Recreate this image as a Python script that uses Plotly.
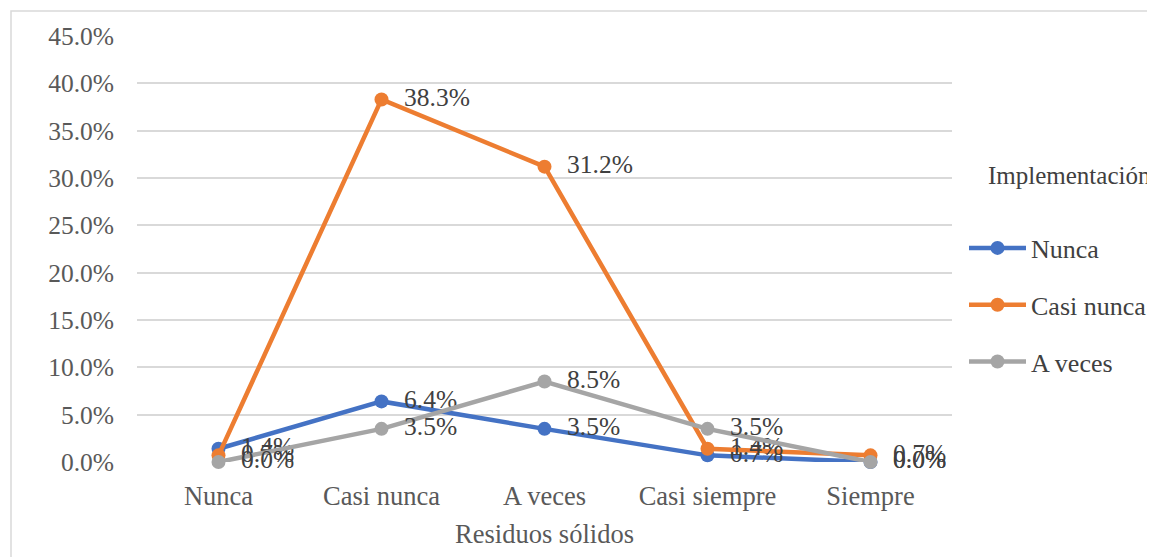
import plotly.graph_objects as go

# Datos
categorias = ['Nunca', 'Casi nunca', 'A veces', 'Casi siempre', 'Siempre']
nunca = [1.4, 6.4, 3.5, 0.7, 0.0]
casi_nunca = [0.7, 38.3, 31.2, 1.4, 0.7]
a_veces = [0.0, 3.5, 8.5, 3.5, 0.0]
y_ticks = [0, 5, 10, 15, 20, 25, 30, 35, 40, 45]

series = [
    ('Nunca', nunca, '#4472C4'),
    ('Casi nunca', casi_nunca, '#ED7D31'),
    ('A veces', a_veces, '#A5A5A5'),
]

W, H = 1155, 557
OFF = 8  # margen por defecto del <body> de la pagina
L, T = 137 - OFF, 36 - OFF
R, B = W - (952 - OFF), H - (462 - OFF)
pw, ph = W - L - R, H - T - B
fuente = 'Liberation Serif'
tam = 25.5
tam_x = 26.5


def px_x(x):
    return (x - OFF - L) / pw


def px_y(y):
    return (H - B - (y - OFF)) / ph


fig = go.Figure()
for nombre, valores, color in series:
    fig.add_trace(go.Scatter(
        x=categorias, y=valores, name=nombre, legendgroup=nombre,
        mode='lines+markers+text',
        line=dict(color=color, width=4.5),
        marker=dict(color=color, size=14),
        text=['\u00a0\u00a0' + f'{v:.1f}%' for v in valores],
        textposition='middle right',
        textfont=dict(family=fuente, size=tam, color='#404040'),
        cliponaxis=False,
    ))

# borde del area del grafico
fig.add_shape(type='rect', xref='paper', yref='paper',
              x0=px_x(11), x1=px_x(1250),
              y0=px_y(650), y1=px_y(11),
              line=dict(color='#D9D9D9', width=1.5), layer='below')

# titulo de la leyenda
fig.add_annotation(text='Implementación', xref='paper', yref='paper',
                   x=px_x(986), y=px_y(175), xanchor='left', yanchor='middle',
                   showarrow=False, font=dict(family=fuente, size=25, color='#404040'))

fig.update_layout(
    width=W, height=H,
    margin=dict(l=L, r=R, t=T, b=B, autoexpand=False),
    paper_bgcolor='white', plot_bgcolor='white',
    font=dict(family=fuente, size=tam, color='#595959'),
    showlegend=True,
    legend=dict(
        x=px_x(964), y=px_y(305), xanchor='left', yanchor='middle',
        font=dict(family=fuente, size=26, color='#404040'),
        tracegroupgap=20, itemwidth=57, bgcolor='rgba(0,0,0,0)',
    ),
    xaxis=dict(
        range=[-0.5, 4.5], automargin=False,
        showgrid=False, showline=False, ticks='', zeroline=False,
        tickfont=dict(size=tam_x, color='#595959'),
        ticklabelstandoff=15,
        title=dict(text='Residuos sólidos', font=dict(size=tam_x, color='#595959'), standoff=14),
    ),
    yaxis=dict(
        range=[0, 45], tickvals=y_ticks, automargin=False,
        ticktext=[f'{v:.1f}%' for v in y_ticks],
        showgrid=True, gridcolor='#D9D9D9', gridwidth=1.5,
        zeroline=False, showline=False, ticks='',
        tickfont=dict(size=tam, color='#595959'),
        ticklabelstandoff=22,
    ),
)

fig.write_html('out.html')
